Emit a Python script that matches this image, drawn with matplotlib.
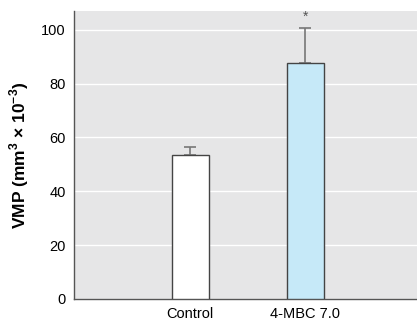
import numpy as np
import matplotlib.pyplot as plt

plt.rcParams['font.family'] = ['Liberation Sans', 'DejaVu Sans']
plt.rcParams['mathtext.fontset'] = 'custom'
plt.rcParams['mathtext.rm'] = 'Liberation Sans:bold'
plt.rcParams['mathtext.bf'] = 'Liberation Sans:bold'

groups = ["Control", "4-MBC 7.0"]
vmp = [53.5, 87.7]
err = [3.0, 13.0]
colors = ["white", "#c6e9f8"]

x = np.arange(len(groups))

fig = plt.figure(figsize=(4.17, 3.2), dpi=100)
ax = fig.add_axes([0.1775, 0.066, 0.8225, 0.9])
ax.set_facecolor("#e6e6e7")

ax.bar(x, vmp, width=0.32, color=colors, edgecolor="#444444", linewidth=1.0, zorder=3)
ax.errorbar(x, vmp, yerr=[[0, 0], err], fmt="none", ecolor="#777777",
            elinewidth=1.2, capsize=4, capthick=1.2, zorder=2)
ax.text(x[1], vmp[1] + err[1] + 4, "*", ha="center", va="center", fontsize=10, color="#555555")

ax.set_ylim(0, 107)
ax.set_xlim(-1.01, 1.97)
ax.set_yticks([0, 20, 40, 60, 80, 100])
ax.set_xticks(x)
ax.set_xticklabels(groups)
ax.tick_params(length=0, labelsize=10.5, pad=6)
ax.tick_params(axis="y", pad=6)
ax.yaxis.grid(True, color="white", linewidth=1.0)
ax.set_axisbelow(True)

for s in ["top", "right"]:
    ax.spines[s].set_visible(False)
for s in ["left", "bottom"]:
    ax.spines[s].set_color("#555555")
    ax.spines[s].set_linewidth(1.0)

ax.set_ylabel(r"VMP (mm$^{3}$ × 10$^{-3}$)", fontsize=12.5, fontweight="bold", labelpad=7)

plt.savefig("out.png", dpi=100)
